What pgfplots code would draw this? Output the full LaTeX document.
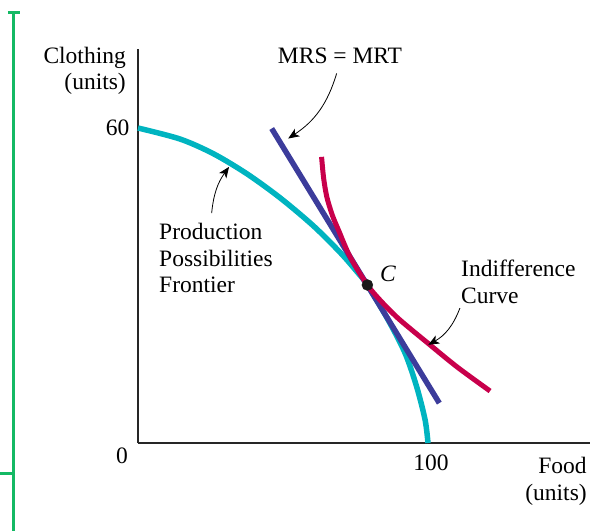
\documentclass[border=0pt]{standalone}
\usepackage{fontspec}
\setmainfont{Liberation Serif}
\usepackage{pgfplots}
\pgfplotsset{compat=1.18}
\usetikzlibrary{arrows.meta}

\definecolor{ppfcyan}{RGB}{0,180,192}
\definecolor{mrtblue}{RGB}{60,60,155}
\definecolor{icred}{RGB}{200,0,75}
\definecolor{bracketgreen}{RGB}{20,185,100}
\newcommand\fs{\fontsize{23.5}{28}\selectfont}

\tikzset{
  lbl/.style={inner sep=0pt, font=\fs},
  pointer/.style={line width=0.8pt, -{Stealth[length=11pt, width=9pt, inset=3pt]}}
}

\begin{document}
\begin{tikzpicture}
% page = 615 x 531, axis origin at (138,443) in picture pixels
\useasboundingbox (-138pt,-88pt) rectangle (477pt,443pt);
\draw[bracketgreen, line width=3pt] (-124pt,430pt) -- (-124pt,-88pt);
\draw[bracketgreen, line width=3pt] (-130pt,430pt) -- (-118pt,430pt);
\draw[bracketgreen, line width=3pt] (-138pt,-30pt) -- (-124pt,-30pt);

\begin{axis}[
    at={(0pt,0pt)}, anchor=south west,
    scale only axis, width=452.4pt, height=393.75pt,
    xmin=0, xmax=156, ymin=0, ymax=75,
    axis x line=bottom, axis y line=left,
    axis line style={-, line width=1.1pt, black!85},
    xtick={100}, ytick={60}, major tick length=0pt,
    tick label style={font=\fs},
    /pgf/number format/assume math mode=true,
    xticklabel style={xshift=3pt, yshift=-8pt},
    yticklabel style={xshift=-5pt},
    clip=false,
]
% production possibilities frontier
\addplot[ppfcyan, line width=5.5pt, smooth] coordinates {
  (0,60) (14.5,57.9) (26,55.1) (37.5,51.3) (49,46.7) (60.4,41.4)
  (69.7,36.3) (75.4,32.7) (79.1,30.1) (86.3,23.4) (92.1,17.1)
  (96.1,10.7) (99.0,4.4) (100,0)
};
% MRS = MRT line
\addplot[mrtblue, line width=5.5pt] coordinates {(46.1,59.9) (103.9,7.6)};
% indifference curve
\addplot[icred, line width=5pt, smooth] coordinates {
  (63.3,54.5) (64.0,50.5) (65.1,46.9) (67.0,43.4) (69.1,40.6) (73.1,35.5)
  (79.1,30.1) (84,26.9) (90,23.6) (100,19.0) (110,14.5) (121.4,9.9)
};
% point C
\addplot[only marks, mark=*, mark size=5.5pt, black!90] coordinates {(79.1,30.1)};

\node[lbl, anchor=base east] at (axis cs:-4.14,72.38) {Clothing};
\node[lbl, anchor=base east] at (axis cs:-4.14,67.4) {(units)};
\node[lbl, anchor=base] at (axis cs:-5.52,-3.81) {0};
\node[lbl, anchor=base east] at (axis cs:154.8,-5.9) {Food};
\node[lbl, anchor=base east] at (axis cs:154.8,-10.86) {(units)};
\node[lbl, anchor=base] at (axis cs:69.66,72.38) {MRS = MRT};
\node[lbl, anchor=base west] at (axis cs:7.24,38.67) {Production};
\node[lbl, anchor=base west] at (axis cs:7.24,33.71) {Possibilities};
\node[lbl, anchor=base west] at (axis cs:7.24,28.76) {Frontier};
\node[lbl, anchor=base west] at (axis cs:111.38,31.62) {Indifference};
\node[lbl, anchor=base west] at (axis cs:111.38,26.48) {Curve};
\node[lbl, anchor=base west] at (axis cs:83.45,30.67) {\textit{C}};

\draw[pointer] (axis cs:25.4,43.8) to[bend left=15] (axis cs:31.4,52.6);
\draw[pointer] (axis cs:68.5,70.4) to[bend left=20] (axis cs:51.8,58.0);
\draw[pointer] (axis cs:111.0,25.7) to[bend left=20] (axis cs:100.1,18.7);
\end{axis}
\end{tikzpicture}
\end{document}
